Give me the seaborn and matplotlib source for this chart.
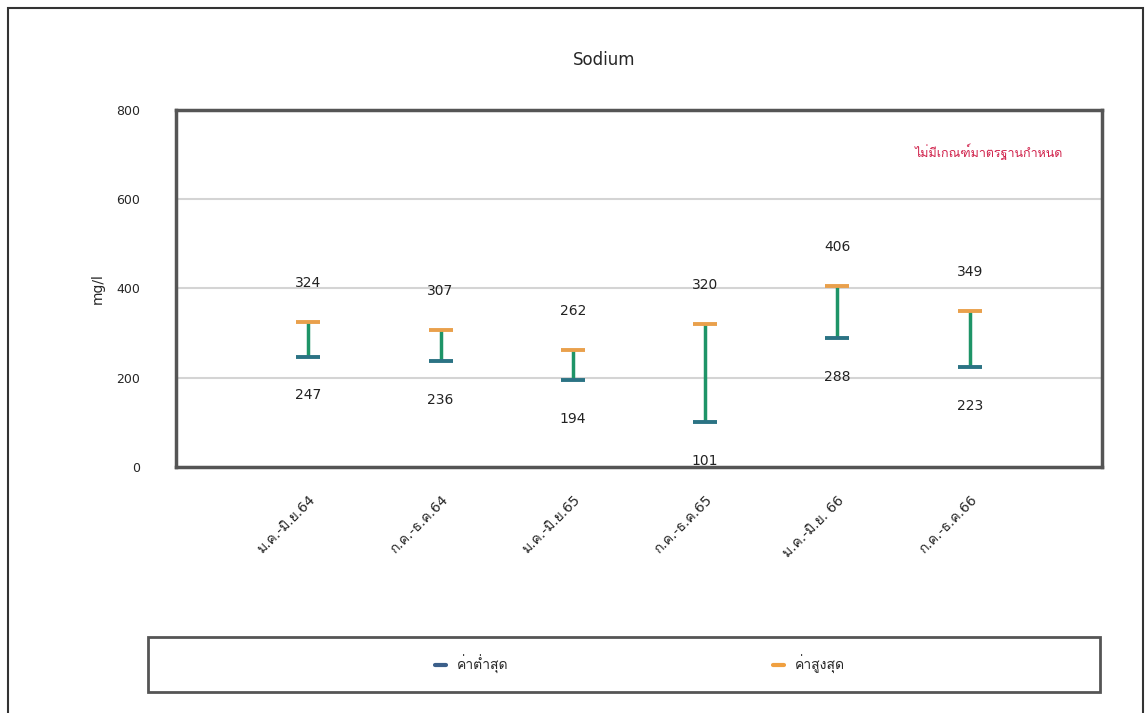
import matplotlib
matplotlib.use("Agg")
import matplotlib.pyplot as plt
from matplotlib import font_manager
from matplotlib.ft2font import FT2Font
from matplotlib.lines import Line2D
from matplotlib.patches import Rectangle
import seaborn as sns
import pandas as pd

# ข้อมูล
periods = ["ม.ค.-มิ.ย.64", "ก.ค.-ธ.ค.64", "ม.ค.-มิ.ย.65", "ก.ค.-ธ.ค.65", "ม.ค.-มิ.ย. 66", "ก.ค.-ธ.ค.66"]
min_vals = [247, 236, 194, 101, 288, 223]
max_vals = [324, 307, 262, 320, 406, 349]

df = pd.DataFrame({"period": periods, "min": min_vals, "max": max_vals})
df["x"] = range(len(df))

sns.set_theme(style="white")

# หา font ที่มีอักษรไทย
thai_font = None
for f in font_manager.fontManager.ttflist:
    try:
        if FT2Font(f.fname).get_char_index(ord("ก")):
            thai_font = f.name
            break
    except Exception:
        pass
fams = ["DejaVu Sans"] + ([thai_font] if thai_font else [])
plt.rcParams["font.family"] = fams

fig = plt.figure(figsize=(11.48, 7.13), dpi=100)
ax = fig.add_axes([0.1533, 0.3454, 0.8066, 0.5003])

# เส้นแนวตั้ง min-max
ax.vlines(df["x"], df["min"], df["max"], color="#1e9467", lw=2.5, zorder=2)
sns.scatterplot(data=df, x="x", y="min", marker="_", s=280, linewidth=2.8,
                color="#2b7384", ax=ax, zorder=3, legend=False)
sns.scatterplot(data=df, x="x", y="max", marker="_", s=280, linewidth=2.8,
                color="#e9a04c", ax=ax, zorder=3, legend=False)

for _, r in df.iterrows():
    ax.annotate(str(r["max"]), (r["x"], r["max"]), xytext=(0, 28), textcoords="offset points",
                ha="center", va="center", fontsize=10, color="#222222")
    ax.annotate(str(r["min"]), (r["x"], r["min"]), xytext=(0, -28), textcoords="offset points",
                ha="center", va="center", fontsize=10, color="#222222")

ax.set_xlim(-1, 6)
ax.set_ylim(0, 800)
ax.set_yticks([0, 200, 400, 600, 800])
ax.set_xticks(df["x"])
ax.set_xticklabels(df["period"], rotation=45, ha="right", rotation_mode="anchor", fontsize=10)
ax.tick_params(axis="x", length=5, width=1.5, color="#555555", pad=14, direction="out")
ax.tick_params(axis="y", length=0, pad=26, labelsize=9)
ax.yaxis.grid(True, color="#d4d4d4", lw=1.5)
ax.set_axisbelow(True)
for s in ax.spines.values():
    s.set_color("#555555")
    s.set_linewidth(2.5)
ax.set_xlabel("")
ax.set_ylabel("mg/l", fontsize=10, labelpad=8)

ax.text(0.958, 0.882, "ไม่มีเกณฑ์มาตรฐานกำหนด", transform=ax.transAxes, ha="right", va="center",
        color="#d0204a", fontsize=9)

fig.text(604 / 1148, 1 - 60 / 713, "Sodium", ha="center", va="center", fontsize=12)

# กรอบนอก
fig.patches.append(Rectangle((8 / 1148, -0.05), 1135 / 1148, 1.05 - 8 / 713, transform=fig.transFigure,
                             fill=False, edgecolor="#333333", lw=1.5))
# กล่อง legend
fig.patches.append(Rectangle((148 / 1148, 1 - 692 / 713), 952 / 1148, 55 / 713, transform=fig.transFigure,
                             fill=False, edgecolor="#555555", lw=2))
handles = [Line2D([], [], color="#3b5f8a", lw=3),
           Line2D([], [], color="#f0a040", lw=3)]
fig.legend(handles, ["ค่าต่ำสุด", "ค่าสูงสุด"], loc="center", bbox_to_anchor=(640 / 1148, 1 - 664 / 713),
           ncol=2, frameon=False, handlelength=0.8, columnspacing=19, fontsize=10)

fig.savefig("out.png", dpi=100)
